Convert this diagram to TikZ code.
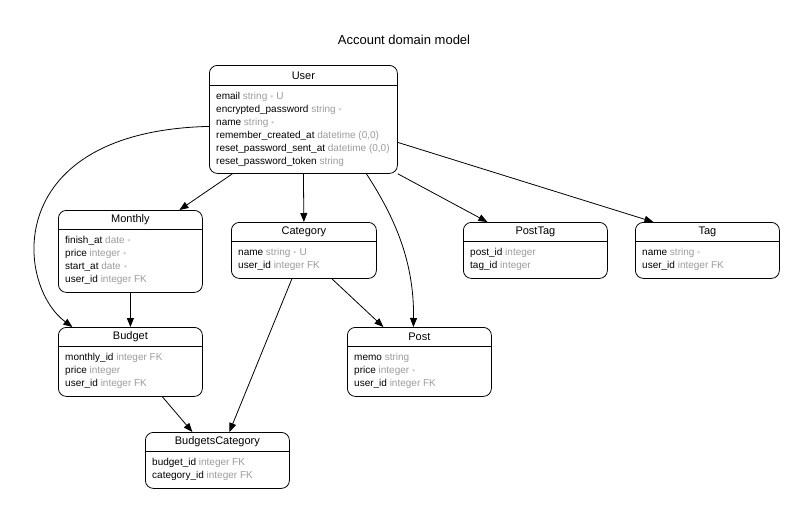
\documentclass[tikz,border=0pt]{standalone}
\usepackage{fontspec}
\setmainfont{Liberation Sans}
\usetikzlibrary{calc}
\usetikzlibrary{arrows.meta}

\definecolor{typegray}{RGB}{155,155,155}
\newcommand{\ty}[1]{\textcolor{typegray}{#1}}
\newcommand{\nn}{\textcolor{typegray}{\raisebox{0.25ex}{\scalebox{0.7}{$\ast$}}}}

\begin{document}
\begin{tikzpicture}[x=1pt, y=-1pt,
    entity/.style={draw, line width=0.8pt, rounded corners=8pt, anchor=north west, inner sep=0pt},
    etitle/.style={font=\fontsize{11}{13}\selectfont, inner sep=0pt},
    efields/.style={anchor=north west, align=left, inner sep=0pt, font=\fontsize{10}{13}\selectfont},
    hline/.style={line width=0.8pt},
    rel/.style={line width=0.8pt, -{Triangle[length=9pt, width=7pt]}}]

    \useasboundingbox (0,0) rectangle (809,517);

    \node [font=\fontsize{13}{15}\selectfont] (title) at (404,40) {Account domain model};

    % User
    \node [entity, minimum width=188pt, minimum height=108pt] (user) at (209,65) {};
    \node [etitle] (user-t) at ($(user.north)+(0,11)$) {User};
    \draw[hline] ($(user.north west)+(0,20)$) -- ($(user.north east)+(0,20)$);
    \node [efields] (user-f) at ($(user.north west)+(7,27)$) {email \ty{string \nn\ U}\\ encrypted\_password \ty{string \nn}\\ name \ty{string \nn}\\ remember\_created\_at \ty{datetime (0,0)}\\ reset\_password\_sent\_at \ty{datetime (0,0)}\\ reset\_password\_token \ty{string}};

    % Monthly
    \node [entity, minimum width=144pt, minimum height=82pt] (monthly) at (58,210) {};
    \node [etitle] (monthly-t) at ($(monthly.north)+(0,10)$) {Monthly};
    \draw[hline] ($(monthly.north west)+(0,19)$) -- ($(monthly.north east)+(0,19)$);
    \node [efields] (monthly-f) at ($(monthly.north west)+(7,26)$) {finish\_at \ty{date \nn}\\ price \ty{integer \nn}\\ start\_at \ty{date \nn}\\ user\_id \ty{integer FK}};

    % Category
    \node [entity, minimum width=145pt, minimum height=56pt] (category) at (231,222) {};
    \node [etitle] (category-t) at ($(category.north)+(0,10)$) {Category};
    \draw[hline] ($(category.north west)+(0,19)$) -- ($(category.north east)+(0,19)$);
    \node [efields] (category-f) at ($(category.north west)+(7,26)$) {name \ty{string \nn\ U}\\ user\_id \ty{integer FK}};

    % PostTag
    \node [entity, minimum width=144pt, minimum height=56pt] (posttag) at (463,222) {};
    \node [etitle] (posttag-t) at ($(posttag.north)+(0,10)$) {PostTag};
    \draw[hline] ($(posttag.north west)+(0,19)$) -- ($(posttag.north east)+(0,19)$);
    \node [efields] (posttag-f) at ($(posttag.north west)+(7,26)$) {post\_id \ty{integer}\\ tag\_id \ty{integer}};

    % Tag
    \node [entity, minimum width=144pt, minimum height=56pt] (tag) at (635,222) {};
    \node [etitle] (tag-t) at ($(tag.north)+(0,10)$) {Tag};
    \draw[hline] ($(tag.north west)+(0,19)$) -- ($(tag.north east)+(0,19)$);
    \node [efields] (tag-f) at ($(tag.north west)+(7,26)$) {name \ty{string \nn}\\ user\_id \ty{integer FK}};

    % Budget
    \node [entity, minimum width=144pt, minimum height=69pt] (budget) at (58,327) {};
    \node [etitle] (budget-t) at ($(budget.north)+(0,10)$) {Budget};
    \draw[hline] ($(budget.north west)+(0,19)$) -- ($(budget.north east)+(0,19)$);
    \node [efields] (budget-f) at ($(budget.north west)+(7,26)$) {monthly\_id \ty{integer FK}\\ price \ty{integer}\\ user\_id \ty{integer FK}};

    % Post
    \node [entity, minimum width=144pt, minimum height=69pt] (post) at (347,327) {};
    \node [etitle] (post-t) at ($(post.north)+(0,10)$) {Post};
    \draw[hline] ($(post.north west)+(0,19)$) -- ($(post.north east)+(0,19)$);
    \node [efields] (post-f) at ($(post.north west)+(7,26)$) {memo \ty{string}\\ price \ty{integer \nn}\\ user\_id \ty{integer FK}};

    % BudgetsCategory
    \node [entity, minimum width=144pt, minimum height=56pt] (budgetscat) at (145,432) {};
    \node [etitle] (budgetscat-t) at ($(budgetscat.north)+(0,10)$) {BudgetsCategory};
    \draw[hline] ($(budgetscat.north west)+(0,19)$) -- ($(budgetscat.north east)+(0,19)$);
    \node [efields] (budgetscat-f) at ($(budgetscat.north west)+(7,26)$) {budget\_id \ty{integer FK}\\ category\_id \ty{integer FK}};

    % relations
    \draw[rel] ($(user.south)+(-71,0)$) -- ($(monthly.north)+(49,0)$);
    \draw[rel] (user.south) -- (category.north);
    \draw[rel] ($(user.south)+(63,0)$) .. controls +(26,40) and +(1,-68) .. ($(post.north)+(-6,0)$);
    \draw[rel] (user.south east) -- ($(posttag.north)+(-48,0)$);
    \draw[rel] ($(user.east)+(0,23)$) -- ($(tag.north)+(-54,0)$);
    \draw[rel] ($(user.west)+(0,7)$) .. controls +(-208,5) and +(-57,-42) .. ($(budget.north)+(-58,0)$);
    \draw[rel] (monthly.south) -- (budget.north);
    \draw[rel] ($(category.south)+(28,0)$) -- ($(post.north)+(-36,0)$);
    \draw[rel] ($(category.south)+(-12,0)$) -- ($(budgetscat.north)+(12,0)$);
    \draw[rel] ($(budget.south)+(32,0)$) -- ($(budgetscat.north)+(-25,0)$);

\end{tikzpicture}
\end{document}
